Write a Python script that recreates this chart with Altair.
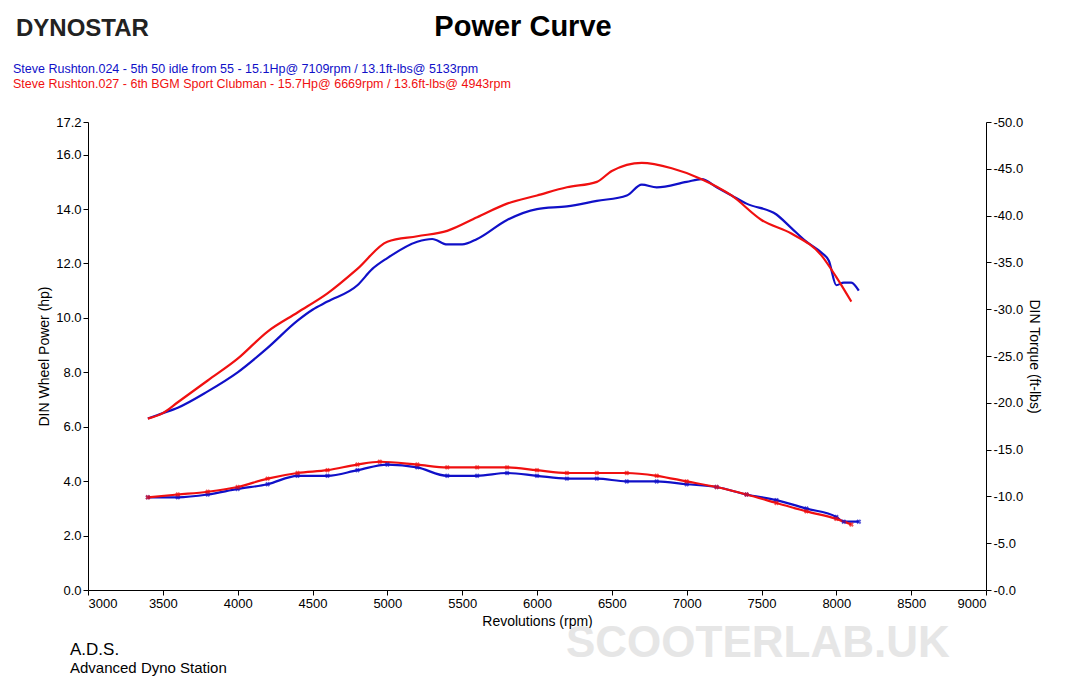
import pandas as pd
import altair as alt

# power (hp)
blue_rpm = [3400, 3500, 3600, 3800, 4000, 4200, 4400, 4500, 4600, 4800, 4900, 5000, 5200, 5300, 5400, 5500, 5600, 5800, 6000, 6200, 6400, 6600, 6700, 6800, 7000, 7100, 7200, 7300, 7400, 7600, 7700, 7800, 7900, 7950, 8000, 8050, 8100, 8150]
blue_hp = [6.3, 6.5, 6.7, 7.3, 8.0, 8.9, 9.9, 10.3, 10.6, 11.2, 11.8, 12.2, 12.8, 12.9, 12.7, 12.7, 12.9, 13.6, 14.0, 14.1, 14.3, 14.5, 14.9, 14.8, 15.0, 15.1, 14.8, 14.5, 14.2, 13.8, 13.3, 12.8, 12.4, 12.1, 11.2, 11.3, 11.3, 11.0]
red_rpm = [3400, 3500, 3600, 3800, 4000, 4200, 4400, 4600, 4800, 5000, 5200, 5400, 5600, 5800, 6000, 6200, 6400, 6500, 6700, 6900, 7100, 7300, 7500, 7700, 7900, 8000, 8100]
red_hp = [6.3, 6.5, 6.9, 7.7, 8.5, 9.5, 10.2, 10.9, 11.8, 12.8, 13.0, 13.2, 13.7, 14.2, 14.5, 14.8, 15.0, 15.4, 15.7, 15.5, 15.1, 14.5, 13.6, 13.1, 12.3, 11.5, 10.6]

# torque (ft-lbs)
blue_t_rpm = [3400, 3600, 3800, 4000, 4200, 4400, 4600, 4800, 5000, 5200, 5400, 5600, 5800, 6000, 6200, 6400, 6600, 6800, 7000, 7200, 7400, 7600, 7800, 8000, 8050, 8150]
blue_tq = [9.9, 9.9, 10.2, 10.8, 11.3, 12.2, 12.2, 12.8, 13.4, 13.1, 12.2, 12.2, 12.5, 12.2, 11.9, 11.9, 11.6, 11.6, 11.3, 11.0, 10.2, 9.6, 8.7, 7.8, 7.3, 7.3]
red_t_rpm = [3400, 3600, 3800, 4000, 4200, 4400, 4600, 4800, 4950, 5200, 5400, 5600, 5800, 6000, 6200, 6400, 6600, 6800, 7000, 7200, 7400, 7600, 7800, 8000, 8100]
red_tq = [9.9, 10.2, 10.5, 11.0, 11.9, 12.5, 12.8, 13.4, 13.7, 13.4, 13.1, 13.1, 13.1, 12.8, 12.5, 12.5, 12.5, 12.2, 11.6, 11.0, 10.2, 9.3, 8.4, 7.6, 7.0]

BLUE = "#1010c8"
RED = "#f01010"
FONT = "Liberation Sans"

power = pd.concat([
    pd.DataFrame({"rpm": blue_rpm, "hp": blue_hp, "run": "024"}),
    pd.DataFrame({"rpm": red_rpm, "hp": red_hp, "run": "027"}),
])
torque = pd.concat([
    pd.DataFrame({"rpm": blue_t_rpm, "tq": blue_tq, "run": "024"}),
    pd.DataFrame({"rpm": red_t_rpm, "tq": red_tq, "run": "027"}),
])

col = alt.Color("run:N", scale=alt.Scale(domain=["024", "027"], range=[BLUE, RED]), legend=None)
xax = alt.X("rpm:Q", scale=alt.Scale(domain=[3000, 9000], nice=False),
            axis=alt.Axis(values=list(range(3000, 9001, 500)), format="d",
                          title="Revolutions (rpm)", grid=False))

hp_line = alt.Chart(power).mark_line(strokeWidth=2.2, interpolate="monotone").encode(
    xax,
    alt.Y("hp:Q", scale=alt.Scale(domain=[0, 17.2], nice=False),
          axis=alt.Axis(values=[0, 2, 4, 6, 8, 10, 12, 14, 16, 17.2], format=".1f",
                        title="DIN Wheel Power (hp)", grid=False)),
    col,
)

tq_y = alt.Y("tq:Q", scale=alt.Scale(domain=[0, 50], nice=False),
             axis=alt.Axis(orient="right", values=list(range(0, 51, 5)), grid=False,
                           labelExpr="'-' + format(datum.value, '.1f')", title="DIN Torque (ft-lbs)"))
tq_line = alt.Chart(torque).mark_line(strokeWidth=2.2, interpolate="monotone").encode(xax, tq_y, col)
tq_pts = alt.Chart(torque).mark_point(shape="cross", angle=45, size=25, filled=True).encode(xax, tq_y, col)

texts = pd.DataFrame({
    "t": ["Steve Rushton.024 - 5th 50 idle from 55   - 15.1Hp@ 7109rpm / 13.1ft-lbs@ 5133rpm",
          "Steve Rushton.027 - 6th BGM Sport Clubman  - 15.7Hp@ 6669rpm / 13.6ft-lbs@ 4943rpm"],
    "yy": [-53, -38], "c": [BLUE, RED],
})
legend_txt = alt.Chart(texts).mark_text(align="left", fontSize=12.5, font=FONT).encode(
    x=alt.value(-75), y=alt.Y("yy:Q", scale=None), text="t:N", color=alt.Color("c:N", scale=None))

title = alt.Chart(pd.DataFrame({"t": ["Power Curve"]})).mark_text(
    fontSize=29, fontWeight="bold", font=FONT).encode(x=alt.value(435), y=alt.value(-95), text="t:N")
logo = alt.Chart(pd.DataFrame({"t": ["DYNOSTAR"]})).mark_text(
    fontSize=24, fontWeight="bold", font=FONT, align="left", color="#222").encode(
    x=alt.value(-72), y=alt.value(-93), text="t:N")
ads1 = alt.Chart(pd.DataFrame({"t": ["A.D.S."]})).mark_text(fontSize=17, font=FONT, align="left").encode(
    x=alt.value(-18), y=alt.value(528), text="t:N")
ads2 = alt.Chart(pd.DataFrame({"t": ["Advanced Dyno Station"]})).mark_text(fontSize=15, font=FONT, align="left").encode(
    x=alt.value(-18), y=alt.value(546), text="t:N")
wm = alt.Chart(pd.DataFrame({"t": ["SCOOTERLAB.UK"]})).mark_text(
    fontSize=44, fontWeight="bold", font=FONT, align="left", color="#e6e6e6").encode(
    x=alt.value(478), y=alt.value(522), text="t:N")

chart = alt.layer(
    wm, hp_line, alt.layer(tq_line, tq_pts), legend_txt, title, logo, ads1, ads2
).resolve_scale(y="independent", color="independent").properties(
    width=898, height=468
).configure_view(stroke=None).configure_axis(
    labelFont=FONT, titleFont=FONT, labelFontSize=13, titleFontSize=14,
    titleFontWeight="normal", domainColor="#000", tickColor="#000", labelColor="#000", titleColor="#000"
)

chart.save("out.html", embed_options={"renderer": "svg", "actions": False})
